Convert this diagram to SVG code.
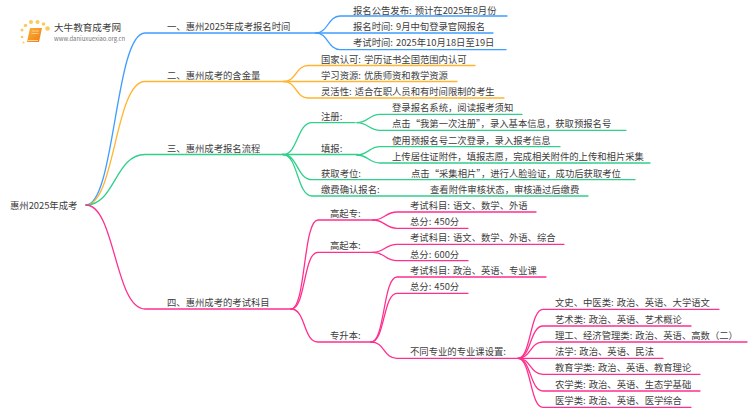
<svg xmlns="http://www.w3.org/2000/svg" width="750" height="410" viewBox="0 0 750 410">
<defs>
<linearGradient id="rule" x1="0" x2="1" y1="0" y2="0"><stop offset="0" stop-color="#ccc" stop-opacity="0"/><stop offset="0.3" stop-color="#ddd"/><stop offset="1" stop-color="#ddd" stop-opacity="0"/></linearGradient>
<linearGradient id="book" x1="0" x2="1" y1="0" y2="1"><stop offset="0" stop-color="#fbb13a"/><stop offset="1" stop-color="#ef7d12"/></linearGradient>
</defs>
<style>
text{font-family:"Noto Sans CJK SC","Liberation Sans",sans-serif;font-size:9.33px;fill:#3d3d3d;word-spacing:1px}
path{fill:none;stroke-width:1.3;stroke-linecap:round}
.b{stroke:#3f9dff}.o{stroke:#ffb52e}.g{stroke:#2fd08a}.p{stroke:#ff2f8e}
.sun{fill:#fcc95c}
</style>
<rect width="750" height="410" fill="#fff"/>
<g id="connectors">
<g>
<path class="b" d="M86 205C115 205 115 33 145 33H316"/>
<path class="b" d="M316 33C328 33 328 16 340 16H507"/>
<path class="b" d="M316 33H493"/>
<path class="b" d="M316 33C328 33 328 49.700 340 49.700H506"/>
</g>
<g>
<path class="o" d="M86 205C115 205 115 81.500 145 81.500H284"/>
<path class="o" d="M284 81.500C296 81.500 296 65.500 308 65.500H475"/>
<path class="o" d="M284 81.500H457"/>
<path class="o" d="M284 81.500C296 81.500 296 98 308 98H504"/>
</g>
<g>
<path class="g" d="M86 205C115 205 115 154.500 145 154.500H283"/>
<path class="g" d="M283 154.500C298 154.500 297 122.700 312 122.700H355"/>
<path class="g" d="M283 154.500H358"/>
<path class="g" d="M283 154.500C298 154.500 297 179.700 312 179.700H635"/>
<path class="g" d="M283 154.500C298 154.500 297 196 312 196H588"/>
<path class="g" d="M357 122.700C368 122.700 369 114.300 380 114.300H522"/>
<path class="g" d="M357 122.700C368 122.700 369 130.300 380 130.300H626"/>
<path class="g" d="M357 155C368 155 369 146.700 380 146.700H560"/>
<path class="g" d="M357 155C368 155 369 163 380 163H650"/>
</g>
<g>
<path class="p" d="M86 205C115 205 115 309 145 309H291"/>
<path class="p" d="M291 309C306 309 303 220 318 220H373"/>
<path class="p" d="M291 309C306 309 303 252.300 318 252.300H373"/>
<path class="p" d="M291 309C306 309 303 342 318 342H371"/>
<path class="p" d="M373 220C385 220 385 212 397 212H536"/>
<path class="p" d="M373 220C385 220 385 228.300 397 228.300H468"/>
<path class="p" d="M373 252.300C385 252.300 385 244.300 397 244.300H564"/>
<path class="p" d="M373 252.300C385 252.300 385 260.700 397 260.700H468"/>
<path class="p" d="M371 342C385 342 383 277 397 277H546"/>
<path class="p" d="M371 342C385 342 383 293.300 397 293.300H468"/>
<path class="p" d="M371 342C385 342 383 358.300 397 358.300H517"/>
<path class="p" d="M518 358.300C531 358.300 530 309.300 543 309.300H719"/>
<path class="p" d="M518 358.300C531 358.300 530 326 543 326H691"/>
<path class="p" d="M518 358.300C531 358.300 530 342 543 342H747"/>
<path class="p" d="M518 358.300H663"/>
<path class="p" d="M518 358.300C531 358.300 530 374.300 543 374.300H700"/>
<path class="p" d="M518 358.300C531 358.300 530 391 543 391H700"/>
<path class="p" d="M518 358.300C531 358.300 530 407.300 543 407.300H691"/>
</g>
</g>
<g id="logo">
<circle class="sun" cx="22" cy="30" r="1.500"/><circle class="sun" cx="25.500" cy="25.500" r="1.700"/><circle class="sun" cx="31" cy="22" r="2"/><circle class="sun" cx="37.500" cy="22" r="2"/><circle class="sun" cx="43.500" cy="24" r="1.800"/><circle class="sun" cx="47.500" cy="28.500" r="2.300"/><circle class="sun" cx="22" cy="37" r="1.300"/><circle class="sun" cx="23.500" cy="42.500" r="1"/>
<polygon points="30,28 42,28 39,42 27,42" fill="url(#book)"/>
<line x1="32" x2="39" y1="31" y2="31" stroke="#ffe3ad" stroke-width="0.7"/>
<line x1="31.500" x2="38.500" y1="33.500" y2="33.500" stroke="#ffe3ad" stroke-width="0.7"/>
<line x1="27.500" x2="38" y1="40.500" y2="40.500" stroke="#ffe9c4" stroke-width="0.8"/>
<line x1="44" x2="130" y1="33" y2="33" stroke="url(#rule)" stroke-width="0.8"/>
<text x="54" y="31" style="font-size:9.6px">大牛教育成考网</text>
<text x="54" y="41" style="font-size:5.9px;fill:#777">www.daniuxuexiao.org.cn</text>
</g>
<g id="root"><text x="10" y="209">惠州2025年成考</text></g>
<g id="n1"><text x="167" y="30">一、惠州2025年成考报名时间</text></g>
<g id="n1-1"><text x="353" y="13.800">报名公告发布: 预计在2025年8月份</text></g>
<g id="n1-2"><text x="353" y="30.200">报名时间: 9月中旬登录官网报名</text></g>
<g id="n1-3"><text x="353" y="46.200">考试时间: 2025年10月18日至19日</text></g>
<g id="n2"><text x="167" y="78.500">二、惠州成考的含金量</text></g>
<g id="n2-1"><text x="321" y="62.500">国家认可: 学历证书全国范围内认可</text></g>
<g id="n2-2"><text x="321" y="78.800">学习资源: 优质师资和教学资源</text></g>
<g id="n2-3"><text x="321" y="95.200">灵活性: 适合在职人员和有时间限制的考生</text></g>
<g id="n3"><text x="167" y="151.500">三、惠州成考报名流程</text></g>
<g id="n3-1"><text x="321" y="119.700">注册:</text></g>
<g id="n3-1-1"><text x="392" y="111.300">登录报名系统，阅读报考须知</text></g>
<g id="n3-1-2"><text x="392" y="127.300">点击“我第一次注册”，录入基本信息，获取预报名号</text></g>
<g id="n3-2"><text x="321" y="152">填报:</text></g>
<g id="n3-2-1"><text x="392" y="143.700">使用预报名号二次登录，录入报考信息</text></g>
<g id="n3-2-2"><text x="392" y="160">上传居住证附件，填报志愿，完成相关附件的上传和相片采集</text></g>
<g id="n3-3"><text x="321" y="176.700">获取考位:</text><text x="411" y="176.700">点击“采集相片”，进行人脸验证，成功后获取考位</text></g>
<g id="n3-4"><text x="321" y="193">缴费确认报名:</text><text x="430" y="193">查看附件审核状态，审核通过后缴费</text></g>
<g id="n4"><text x="167" y="306">四、惠州成考的考试科目</text></g>
<g id="n4-1"><text x="330" y="217">高起专:</text></g>
<g id="n4-1-1"><text x="410" y="209">考试科目: 语文、数学、外语</text></g>
<g id="n4-1-2"><text x="410" y="225.300">总分: 450分</text></g>
<g id="n4-2"><text x="330" y="249.300">高起本:</text></g>
<g id="n4-2-1"><text x="410" y="241.300">考试科目: 语文、数学、外语、综合</text></g>
<g id="n4-2-2"><text x="410" y="257.700">总分: 600分</text></g>
<g id="n4-3"><text x="330" y="339">专升本:</text></g>
<g id="n4-3-1"><text x="410" y="274">考试科目: 政治、英语、专业课</text></g>
<g id="n4-3-2"><text x="410" y="290.300">总分: 450分</text></g>
<g id="n4-3-3"><text x="410" y="355.300">不同专业的专业课设置:</text></g>
<g id="n4-3-3-1"><text x="555" y="306.300">文史、中医类: 政治、英语、大学语文</text></g>
<g id="n4-3-3-2"><text x="555" y="323">艺术类: 政治、英语、艺术概论</text></g>
<g id="n4-3-3-3"><text x="555" y="339">理工、经济管理类: 政治、英语、高数（二）</text></g>
<g id="n4-3-3-4"><text x="555" y="355.300">法学: 政治、英语、民法</text></g>
<g id="n4-3-3-5"><text x="555" y="371.300">教育学类: 政治、英语、教育理论</text></g>
<g id="n4-3-3-6"><text x="555" y="388">农学类: 政治、英语、生态学基础</text></g>
<g id="n4-3-3-7"><text x="555" y="404.300">医学类: 政治、英语、医学综合</text></g>
</svg>
